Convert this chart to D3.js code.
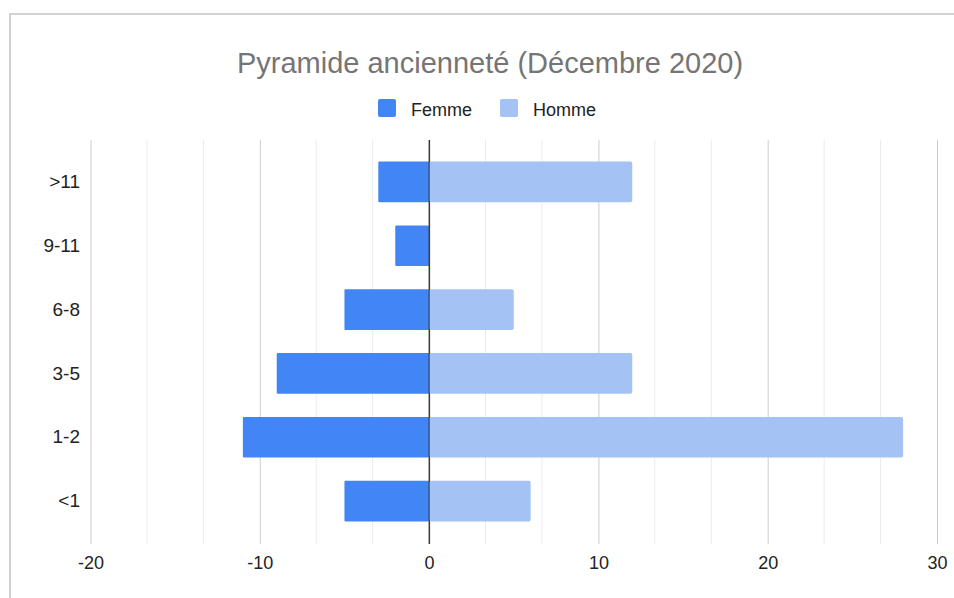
<!DOCTYPE html>
<html><head><meta charset="utf-8">
<script src="https://cdn.jsdelivr.net/npm/d3@7"></script>
<style>body{margin:0;background:#fff}svg{display:block;font-family:Arial,"Liberation Sans",sans-serif}</style>
</head><body>
<script>
const categories = [">11", "9-11", "6-8", "3-5", "1-2", "<1"];
const femme = [-3, -2, -5, -9, -11, -5];
const homme = [12, 0, 5, 12, 28, 6];
const xTicks = [-20, -10, 0, 10, 20, 30];
const title = "Pyramide ancienneté (Décembre 2020)";
const seriesNames = ["Femme", "Homme"];
const colors = ["#4285F4", "#A4C2F4"];

const W = 954, H = 598;
const FONT = "Arial, 'Liberation Sans', sans-serif";
const svg = d3.select("body").append("svg").attr("width", W).attr("height", H);

// frame
svg.append("path").attr("d", `M10,${H} L10,14 L${W},14`).attr("fill", "none")
  .attr("stroke", "#d2d2d2").attr("stroke-width", 2);

const x = d3.scaleLinear().domain([-20, 30]).range([90.5, 937]);
const y = d3.scaleBand().domain(categories).range([150, 533]).paddingInner(0.364).paddingOuter(0.182);
const plotTop = 140, plotBottom = 544;

// minor gridlines
const minor = [];
for (let i = 0; i < 5; i++) for (let j = 1; j < 3; j++) minor.push(xTicks[i] + j * 10 / 3);
svg.append("g").selectAll("line").data(minor).join("line")
  .attr("x1", d => x(d)).attr("x2", d => x(d)).attr("y1", plotTop).attr("y2", plotBottom)
  .attr("stroke", "#ebebeb").attr("stroke-width", 1);

// x axis with major gridlines
const xAxis = svg.append("g").attr("transform", `translate(0,${plotBottom})`)
  .call(d3.axisBottom(x).tickValues(xTicks).tickFormat(d => String(d))
    .tickSize(-(plotBottom - plotTop)).tickPadding(12));
xAxis.select(".domain").remove();
xAxis.selectAll(".tick line").attr("stroke", d => d === 0 ? "#333" : "#cccccc");
xAxis.selectAll(".tick text").attr("font-size", 18).attr("fill", "#222").attr("font-family", FONT);

// y axis labels
const yAxis = svg.append("g").attr("transform", `translate(80,0)`)
  .call(d3.axisLeft(y).tickSize(0).tickPadding(0));
yAxis.select(".domain").remove();
yAxis.selectAll(".tick text").attr("font-size", 19).attr("fill", "#222").attr("font-family", FONT);

// bars
const bars = svg.append("g");
bars.selectAll("rect.f").data(categories).join("rect").attr("class", "f")
  .attr("x", (d, i) => x(femme[i])).attr("width", (d, i) => x(0) - x(femme[i]))
  .attr("y", d => y(d)).attr("height", y.bandwidth()).attr("fill", colors[0]).attr("rx", 1);
bars.selectAll("rect.h").data(categories).join("rect").attr("class", "h")
  .attr("x", x(0)).attr("width", (d, i) => x(homme[i]) - x(0))
  .attr("y", d => y(d)).attr("height", y.bandwidth()).attr("fill", colors[1]).attr("rx", 2);

// zero line on top
svg.append("line").attr("x1", x(0)).attr("x2", x(0)).attr("y1", plotTop).attr("y2", plotBottom)
  .attr("stroke", "#333").attr("stroke-width", 1);

// title
svg.append("text").attr("x", 490).attr("y", 73).attr("text-anchor", "middle")
  .attr("font-size", 29).attr("fill", "#757575").text(title);

// legend
const legendX = [378, 500];
const lg = svg.append("g");
seriesNames.forEach((s, i) => {
  lg.append("rect").attr("x", legendX[i]).attr("y", 99).attr("width", 18).attr("height", 18)
    .attr("rx", 2).attr("fill", colors[i]);
  lg.append("text").attr("x", legendX[i] + 33).attr("y", 116).attr("font-size", 18)
    .attr("fill", "#222").text(s);
});
</script>
</body></html>
